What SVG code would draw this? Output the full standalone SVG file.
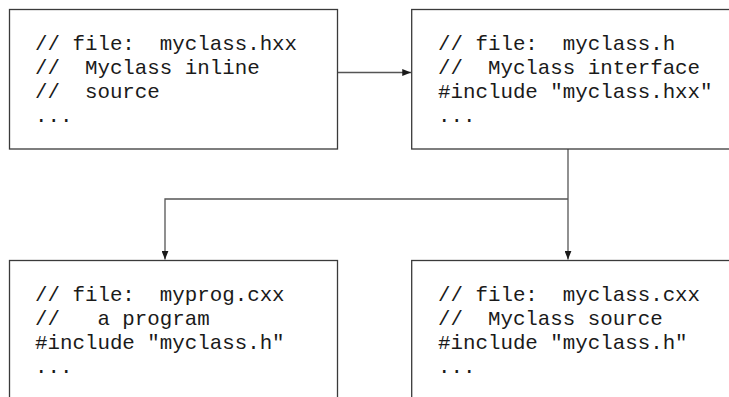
<svg xmlns="http://www.w3.org/2000/svg" width="729" height="397" viewBox="0 0 729 397">
  <style>
    .box { fill: #ffffff; stroke: #3a3a3a; stroke-width: 1.3; }
    .code { font-family: "Liberation Mono", "DejaVu Sans Mono", monospace; font-size: 20.8px; fill: #1a1a1a; white-space: pre; }
    .wire { fill: none; stroke: #555555; stroke-width: 1.3; }
  </style>
  <defs>
    <marker id="arrow" viewBox="0 0 10 8" refX="10" refY="4" markerWidth="9" markerHeight="7" markerUnits="userSpaceOnUse" orient="auto">
      <path d="M0,0 L10,4 L0,8 Z" fill="#1a1a1a"/>
    </marker>
  </defs>
  <rect width="729" height="397" fill="#ffffff"/>

  <g id="connectors">
    <path class="wire" d="M337.5,72.5 H411" marker-end="url(#arrow)"/>
    <path class="wire" d="M568,149 V259.5" marker-end="url(#arrow)"/>
    <path class="wire" d="M568,199 H165 V259.5" marker-end="url(#arrow)"/>
  </g>

  <g id="myclass-hxx">
    <rect class="box" x="9.5" y="9.5" width="328" height="139.5"/>
    <text class="code" x="35" y="49.5">// file:  myclass.hxx</text>
    <text class="code" x="35" y="73.8">//  Myclass inline</text>
    <text class="code" x="35" y="98">//  source</text>
    <text class="code" x="35" y="122">...</text>
  </g>

  <g id="myclass-h">
    <rect class="box" x="411.7" y="9.5" width="330" height="139.5"/>
    <text class="code" x="438" y="49.5">// file:  myclass.h</text>
    <text class="code" x="438" y="73.8">//  Myclass interface</text>
    <text class="code" x="438" y="98">#include "myclass.hxx"</text>
    <text class="code" x="438" y="122">...</text>
  </g>

  <g id="myprog-cxx">
    <rect class="box" x="9.5" y="260.5" width="328" height="150"/>
    <text class="code" x="35" y="300.5">// file:  myprog.cxx</text>
    <text class="code" x="35" y="324.8">//   a program</text>
    <text class="code" x="35" y="349">#include "myclass.h"</text>
    <text class="code" x="35" y="373">...</text>
  </g>

  <g id="myclass-cxx">
    <rect class="box" x="411.7" y="260.5" width="330" height="150"/>
    <text class="code" x="438" y="300.5">// file:  myclass.cxx</text>
    <text class="code" x="438" y="324.8">//  Myclass source</text>
    <text class="code" x="438" y="349">#include "myclass.h"</text>
    <text class="code" x="438" y="373">...</text>
  </g>
</svg>
